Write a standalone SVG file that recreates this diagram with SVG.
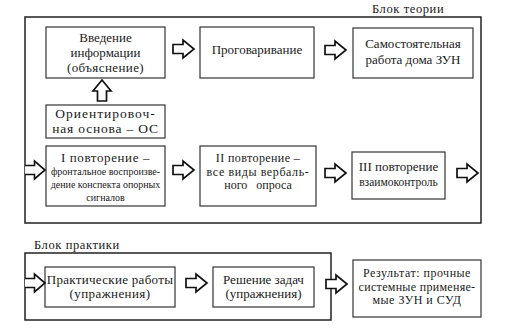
<svg xmlns="http://www.w3.org/2000/svg" xmlns:xlink="http://www.w3.org/1999/xlink" width="505" height="334" viewBox="0 0 505 334" font-family="'Liberation Serif', serif">
<style>
.blk{fill:none;stroke:#222;stroke-width:1.5}
.box{fill:#fff;stroke:#333;stroke-width:1.2}
text{font-family:'Liberation Serif','DejaVu Serif',serif}
.t{font-size:13px;fill:#1a1a1a;text-anchor:middle}
.m{font-size:12px}
.s{font-size:10px}
.lbl{font-size:12.5px;fill:#1a1a1a;letter-spacing:0.6px}
.ar{fill:#fff;stroke:#111;stroke-width:1.7;stroke-linejoin:miter}
</style>
<defs>
<path id="arr" d="M0,-4.5 H10 V-9 L21,0 L10,9 V4.5 H0 Z"/>
<path id="arro" d="M0,-4.5 H10 V-9 L21,0 L10,9 V4.5 H0"/>
</defs>
<rect width="505" height="334" fill="#fff"/>

<g id="theory-block">
<rect class="blk" x="25" y="17" width="456" height="206"/>
<text class="lbl" x="372" y="13">Блок теории</text>
</g>
<g id="practice-block">
<rect class="blk" x="25" y="253" width="306" height="67"/>
<text class="lbl" x="34" y="249">Блок практики</text>
</g>

<g id="vvedenie">
<rect class="box" x="46" y="27" width="119" height="51"/>
<text class="t" x="105.5" y="42">Введение</text>
<text class="t" x="105.5" y="57">информации</text>
<text class="t" x="105.5" y="72" style="letter-spacing:0.4px">(объяснение)</text>
</g>
<g id="progovarivanie">
<rect class="box" x="200" y="27" width="114" height="51"/>
<text class="t" x="257" y="54">Проговаривание</text>
</g>
<g id="samost">
<rect class="box" x="353" y="28" width="120" height="50"/>
<text class="t" x="413" y="48">Самостоятельная</text>
<text class="t" x="413" y="64">работа дома ЗУН</text>
</g>
<g id="os">
<rect class="box" x="46" y="105" width="119" height="33"/>
<text class="t" x="105.5" y="118" style="font-size:13.5px;letter-spacing:1px">Ориентировоч-</text>
<text class="t" x="105.5" y="133" style="font-size:13.5px;letter-spacing:0.8px">ная основа – ОС</text>
</g>
<g id="povt1">
<rect class="box" x="46" y="146" width="119" height="60"/>
<text class="t" x="105.5" y="162" style="letter-spacing:0.6px">I повторение –</text>
<text class="t s" x="105.5" y="175">фронтальное воспроизве-</text>
<text class="t s" x="105.5" y="188">дение конспекта опорных</text>
<text class="t s" x="105.5" y="201">сигналов</text>
</g>
<g id="povt2">
<rect class="box" x="200" y="146" width="116" height="60"/>
<text class="t m" x="258" y="162" style="letter-spacing:0.4px">II повторение –</text>
<text class="t m" x="258" y="175.5" style="letter-spacing:0.6px">все виды вербаль-</text>
<text class="t m" x="258" y="189" style="word-spacing:6px">ного опроса</text>
</g>
<g id="povt3">
<rect class="box" x="352" y="152" width="93" height="47"/>
<text class="t" x="398.5" y="171">III повторение</text>
<text class="t" x="398.5" y="186" style="font-size:11.5px">взаимоконтроль</text>
</g>
<g id="prakt">
<rect class="box" x="45" y="267" width="130" height="40"/>
<text class="t" x="110" y="284" style="letter-spacing:0.3px">Практические работы</text>
<text class="t" x="110" y="298" style="letter-spacing:0.4px">(упражнения)</text>
</g>
<g id="zadachi">
<rect class="box" x="213" y="267" width="101" height="40"/>
<text class="t" x="263.5" y="284">Решение задач</text>
<text class="t" x="263.5" y="298">(упражнения)</text>
</g>
<g id="result">
<rect class="box" x="353" y="260" width="128" height="57"/>
<text class="t m" x="417" y="277" style="letter-spacing:0.5px">Результат: прочные</text>
<text class="t m" x="417" y="290.5" style="letter-spacing:0.3px">системные применяе-</text>
<text class="t m" x="417" y="304" style="letter-spacing:0.5px">мые ЗУН и СУД</text>
</g>

<g id="connectors">
<use xlink:href="#arr" class="ar" transform="translate(173,49)"/>
<use xlink:href="#arr" class="ar" transform="translate(325,50)"/>
<use xlink:href="#arr" class="ar" transform="translate(102,101) rotate(-90)"/>
<use xlink:href="#arro" class="ar" transform="translate(25,170) scale(0.95,1)"/>
<use xlink:href="#arr" class="ar" transform="translate(173,170)"/>
<use xlink:href="#arr" class="ar" transform="translate(325,173)"/>
<use xlink:href="#arr" class="ar" transform="translate(457,173)"/>
<use xlink:href="#arro" class="ar" transform="translate(25,283) scale(0.95,1)"/>
<use xlink:href="#arr" class="ar" transform="translate(186,283)"/>
<use xlink:href="#arr" class="ar" transform="translate(326,284)"/>
</g>
</svg>
